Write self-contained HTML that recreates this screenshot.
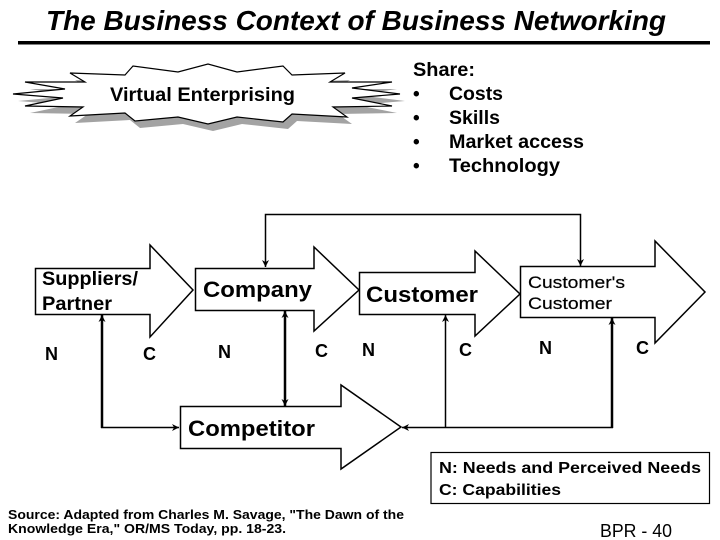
<!DOCTYPE html>
<html><head><meta charset="utf-8"><style>
html,body{margin:0;padding:0;background:#fff}
svg{display:block}
text{font-family:"Liberation Sans",sans-serif;font-weight:bold;fill:#000}
.a{fill:#fff;stroke:#000;stroke-width:1.5}
.l{fill:none;stroke:#000;stroke-width:1.5}
.t{fill:none;stroke:#000;stroke-width:2.5}
</style></head><body>
<svg width="720" height="540" viewBox="0 0 720 540" xmlns="http://www.w3.org/2000/svg">
<defs><marker id="h" viewBox="0 0 10 10" refX="10" refY="5" markerWidth="9" markerHeight="7" markerUnits="userSpaceOnUse" orient="auto-start-reverse"><path d="M0 0L10 5L0 10L3 5Z" fill="#000"/></marker></defs>
<text x="46" y="30" font-size="28" font-style="italic" textLength="620" lengthAdjust="spacingAndGlyphs">The Business Context of Business Networking</text>
<rect x="18" y="41" width="692" height="3.5" fill="#000"/>

<polygon transform="translate(5,7)" fill="#a3a3a3" points="70,73 85,82 25,82 65,89 13,94 63,98 25,106 83,107 70,116 125,113 135,121 178,117 208,124 237,117 283,122 292,114 347,117 333,107 392,106 352,98 400,94 352,88 392,82 330,82 345,73 292,75 283,66 237,72 208,64 178,72 133,66 125,75"/>
<polygon fill="#fff" stroke="#000" stroke-width="1.2" points="70,73 85,82 25,82 65,89 13,94 63,98 25,106 83,107 70,116 125,113 135,121 178,117 208,124 237,117 283,122 292,114 347,117 333,107 392,106 352,98 400,94 352,88 392,82 330,82 345,73 292,75 283,66 237,72 208,64 178,72 133,66 125,75"/>
<text x="110" y="101" font-size="19" textLength="185" lengthAdjust="spacingAndGlyphs">Virtual Enterprising</text>

<g font-size="19">
<text x="413" y="76" textLength="62" lengthAdjust="spacingAndGlyphs">Share:</text>
<text x="413" y="100">•</text><text x="449" y="100" textLength="54" lengthAdjust="spacingAndGlyphs">Costs</text>
<text x="413" y="124">•</text><text x="449" y="124" textLength="51" lengthAdjust="spacingAndGlyphs">Skills</text>
<text x="413" y="148">•</text><text x="449" y="148" textLength="135" lengthAdjust="spacingAndGlyphs">Market access</text>
<text x="413" y="172">•</text><text x="449" y="172" textLength="111" lengthAdjust="spacingAndGlyphs">Technology</text>
</g>

<polygon class="a" points="35.5,268.5 150,268.5 150,245 193,290 150,337 150,314.5 35.5,314.5"/>
<polygon class="a" points="195.5,268.5 314,268.5 314,247 359,290 314,331 314,310.5 195.5,310.5"/>
<polygon class="a" points="359.5,272.5 475,272.5 475,251 520,294 475,336 475,314.5 359.5,314.5"/>
<polygon class="a" points="520.5,266.5 655,266.5 655,241 705,292 655,343 655,317.5 520.5,317.5"/>
<polygon class="a" points="180.5,406.5 341,406.5 341,385 401,427 341,469 341,448.5 180.5,448.5"/>

<polyline class="l" points="265.5,267 265.5,214.5 580.5,214.5 580.5,266" marker-start="url(#h)" marker-end="url(#h)"/>
<line class="t" x1="102" y1="315" x2="102" y2="428" marker-start="url(#h)"/>
<line class="l" x1="101" y1="427.5" x2="179" y2="427.5" marker-end="url(#h)"/>
<line class="t" x1="285" y1="311" x2="285" y2="406" marker-start="url(#h)" marker-end="url(#h)"/>
<line class="l" x1="445.5" y1="315" x2="445.5" y2="427" marker-start="url(#h)"/>
<line class="t" x1="612" y1="318" x2="612" y2="428" marker-start="url(#h)"/>
<line class="l" x1="613" y1="427.5" x2="402" y2="427.5" marker-end="url(#h)"/>

<g font-size="19">
<text x="42" y="285" font-size="19" textLength="96" lengthAdjust="spacingAndGlyphs">Suppliers/</text>
<text x="42" y="310" font-size="19" textLength="70" lengthAdjust="spacingAndGlyphs">Partner</text>
<text x="45" y="360" font-size="18">N</text><text x="143" y="360" font-size="18">C</text>
<text x="218" y="358" font-size="18">N</text><text x="315" y="357" font-size="18">C</text>
<text x="362" y="356" font-size="18">N</text><text x="459" y="356" font-size="18">C</text>
<text x="539" y="354" font-size="18">N</text><text x="636" y="354" font-size="18">C</text>
<text x="203" y="297" font-size="22" textLength="109" lengthAdjust="spacingAndGlyphs">Company</text>
<text x="366" y="302" font-size="22" textLength="112" lengthAdjust="spacingAndGlyphs">Customer</text>
<text x="528" y="288" font-size="17" style="font-weight:normal" stroke="#000" stroke-width=".2" textLength="97" lengthAdjust="spacingAndGlyphs">Customer's</text>
<text x="528" y="309" font-size="17" style="font-weight:normal" stroke="#000" stroke-width=".2" textLength="84" lengthAdjust="spacingAndGlyphs">Customer</text>
<text x="188" y="436" font-size="22" textLength="127" lengthAdjust="spacingAndGlyphs">Competitor</text>
</g>

<rect x="431" y="452.5" width="278.5" height="51" fill="#fff" stroke="#000" stroke-width="1.2"/>
<text x="439" y="473" font-size="16" textLength="262" lengthAdjust="spacingAndGlyphs">N: Needs and Perceived Needs</text>
<text x="439" y="495" font-size="16" textLength="122" lengthAdjust="spacingAndGlyphs">C: Capabilities</text>

<text x="8" y="519" font-size="13" textLength="396" lengthAdjust="spacingAndGlyphs">Source: Adapted from Charles M. Savage, "The Dawn of the</text>
<text x="8" y="533" font-size="13" textLength="278" lengthAdjust="spacingAndGlyphs">Knowledge Era," OR/MS Today, pp. 18-23.</text>
<text x="600" y="537" font-size="18" style="font-weight:normal" textLength="72" lengthAdjust="spacingAndGlyphs">BPR - 40</text>
</svg>
</body></html>
